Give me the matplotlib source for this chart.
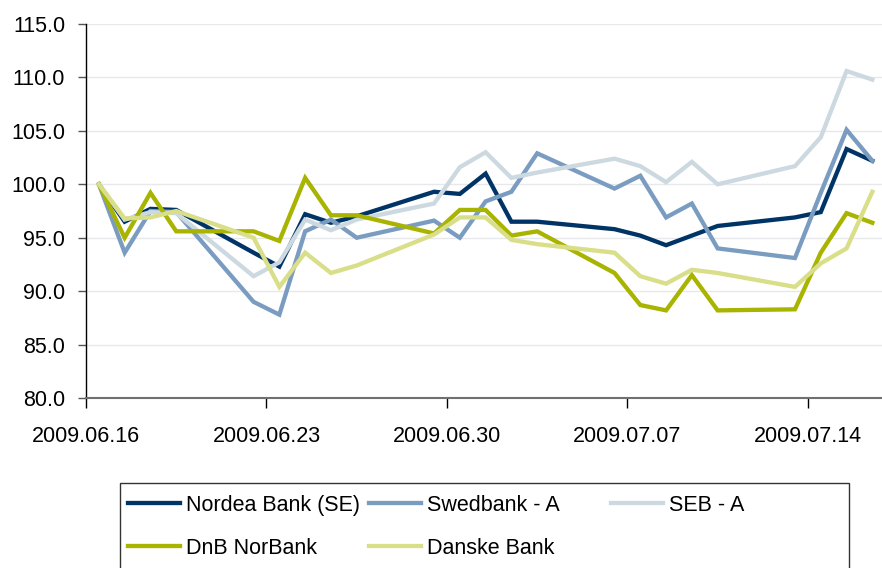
import pandas as pd
import matplotlib.pyplot as plt
import matplotlib.dates as mdates
from matplotlib.patches import Rectangle

plt.rcParams["font.family"] = ["Liberation Sans", "DejaVu Sans"]

dates = ["2009-06-16", "2009-06-17", "2009-06-18", "2009-06-19", "2009-06-22",
         "2009-06-23", "2009-06-24", "2009-06-25", "2009-06-26", "2009-06-29",
         "2009-06-30", "2009-07-01", "2009-07-02", "2009-07-03", "2009-07-06",
         "2009-07-07", "2009-07-08", "2009-07-09", "2009-07-10", "2009-07-13",
         "2009-07-14", "2009-07-15", "2009-07-16"]

nordea = [100.0, 96.5, 97.7, 97.6, 93.6, 92.3, 97.2, 96.4, 97.0, 99.3, 99.1, 101.0,
          96.5, 96.5, 95.8, 95.2, 94.3, 95.2, 96.1, 96.9, 97.4, 103.3, 102.2]
swedbank = [100.0, 93.6, 97.5, 97.4, 89.0, 87.8, 95.6, 96.7, 95.0, 96.6, 95.0, 98.4,
            99.3, 102.9, 99.6, 100.8, 96.9, 98.2, 94.0, 93.1, 99.2, 105.1, 102.2]
seb = [100.0, 96.7, 97.4, 97.3, 91.4, 92.7, 96.7, 95.7, 96.7, 98.2, 101.6, 103.0,
       100.6, 101.1, 102.4, 101.7, 100.2, 102.1, 100.0, 101.7, 104.4, 110.6, 109.8]
dnb = [100.0, 95.0, 99.2, 95.6, 95.6, 94.7, 100.6, 97.1, 97.1, 95.4, 97.6, 97.6,
       95.2, 95.6, 91.7, 88.7, 88.2, 91.5, 88.2, 88.3, 93.6, 97.3, 96.4]
danske = [100.0, 96.8, 96.9, 97.5, 95.0, 90.4, 93.6, 91.7, 92.4, 95.3, 96.9, 96.9,
          94.8, 94.4, 93.6, 91.4, 90.7, 92.0, 91.7, 90.4, 92.6, 94.0, 99.3]

labels = ["Nordea Bank (SE)", "Swedbank - A", "SEB - A", "DnB NorBank", "Danske Bank"]
colors = ["#003466", "#7b9cc1", "#cdd9e0", "#a8b400", "#d9de88"]
tick_dates = ["2009-06-16", "2009-06-23", "2009-06-30", "2009-07-07", "2009-07-14"]

# points sit in the middle of each day slot (Excel style date axis)
x = pd.to_datetime(dates) + pd.Timedelta(hours=12)

fig = plt.figure(figsize=(8.82, 5.68), dpi=100)
ax = fig.add_axes([0.0975, 0.2993, 0.9025, 0.6584])

handles = []
for series, label, color in zip([nordea, swedbank, seb, dnb, danske], labels, colors):
    h, = ax.plot(x, series, color=color, lw=3.1, label=label, solid_joinstyle="miter")
    handles.append(h)

ax.set_ylim(80, 115)
ax.set_yticks(range(80, 116, 5))
ax.yaxis.set_major_formatter(plt.FuncFormatter(lambda v, p: f"{v:.1f}"))
ax.set_xlim(pd.Timestamp("2009-06-16"), pd.Timestamp("2009-07-16 21:00"))
ax.set_xticks(pd.to_datetime(tick_dates))
ax.xaxis.set_major_formatter(mdates.DateFormatter("%Y.%m.%d"))

ax.grid(axis="y", color="#e6e8ec", lw=1)
ax.set_axisbelow(True)
for side in ["top", "right"]:
    ax.spines[side].set_visible(False)
ax.spines["left"].set_color("black")
ax.spines["left"].set_linewidth(1)
ax.spines["bottom"].set_color("#707070")
ax.spines["bottom"].set_linewidth(1.5)
ax.tick_params(axis="y", length=6, width=1, color="#555555", pad=9, labelsize=15.5)
ax.tick_params(axis="x", length=7, width=1, color="black", pad=13, labelsize=15.5)

# legend: equal width columns inside one frame
fig.add_artist(Rectangle((120 / 882, -0.1), (849 - 120) / 882, 1 - 483 / 568 + 0.1,
                         transform=fig.transFigure, fill=False, ec="#333333", lw=1))
columns = [[handles[0], handles[3]], [handles[1], handles[4]], [handles[2]]]
col_x = [128, 369, 611]
for hs, cx in zip(columns, col_x):
    fig.legend(handles=hs, loc="upper left", bbox_to_anchor=(cx / 882, 1 - 495 / 568),
               frameon=False, fontsize=15.5, handlelength=2.4, handletextpad=0.3,
               borderpad=0, borderaxespad=0, labelspacing=1.0)

fig.savefig("out.png", dpi=100)
